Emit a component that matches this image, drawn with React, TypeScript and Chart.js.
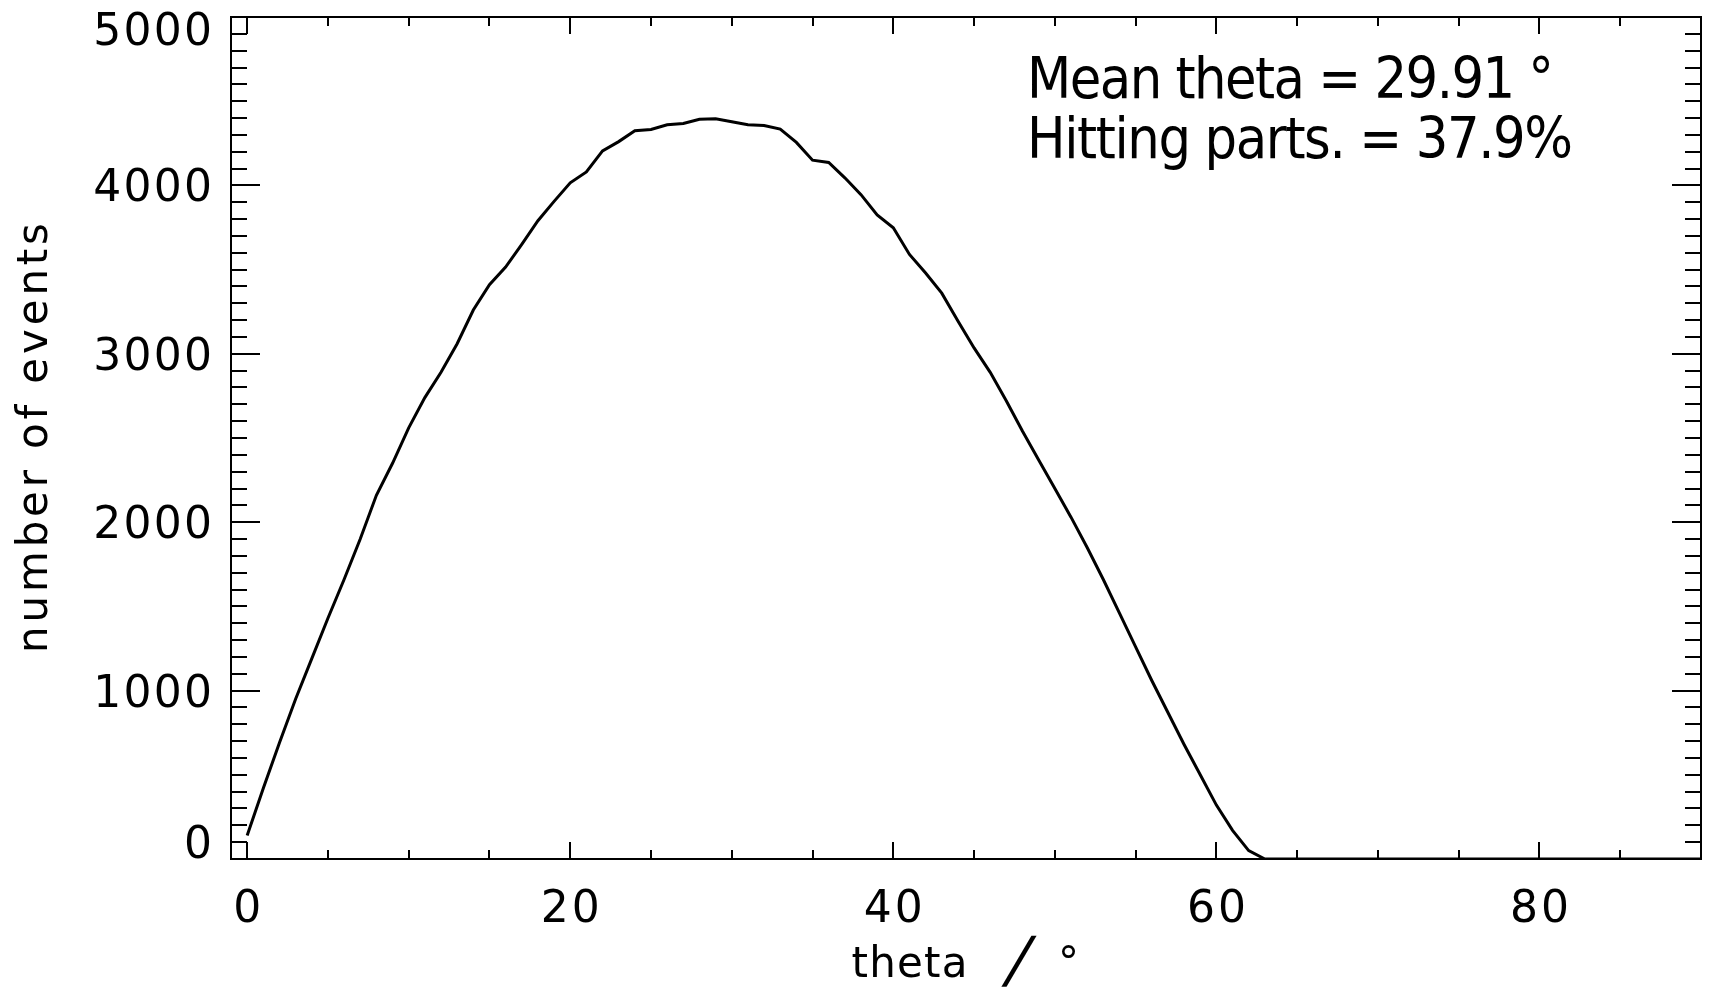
import React, { useEffect, useRef } from "react";
import { Chart, registerables } from "chart.js";

Chart.register(...registerables);

// ---- data ----
const thetaDeg = [
  0, 1, 2, 3, 4, 5, 6, 7, 8, 9,
  10, 11, 12, 13, 14, 15, 16, 17, 18, 19,
  20, 21, 22, 23, 24, 25, 26, 27, 28, 29,
  30, 31, 32, 33, 34, 35, 36, 37, 38, 39,
  40, 41, 42, 43, 44, 45, 46, 47, 48, 49,
  50, 51, 52, 53, 54, 55, 56, 57, 58, 59,
  60, 61, 62, 63, 64, 65, 66, 67, 68, 69,
  70, 71, 72, 73, 74, 75, 76, 77, 78, 79,
  80, 81, 82, 83, 84, 85, 86, 87, 88, 89,
  90,
];

const eventCounts = [
  140, 420, 690, 950, 1190, 1430, 1660, 1900, 2160, 2350,
  2560, 2740, 2890, 3060, 3260, 3410, 3515, 3650, 3790, 3905,
  4015, 4080, 4205, 4260, 4325, 4332, 4360, 4368, 4393, 4396,
  4378, 4360, 4356, 4334, 4255, 4150, 4136, 4045, 3945, 3825,
  3748, 3590, 3480, 3360, 3195, 3035, 2890, 2720, 2540, 2370,
  2200, 2030, 1850, 1660, 1460, 1260, 1060, 870, 680, 500,
  320, 170, 50, 0, 0, 0, 0, 0, 0, 0,
  0, 0, 0, 0, 0, 0, 0, 0, 0, 0,
  0, 0, 0, 0, 0, 0, 0, 0, 0, 0,
  0,
];

const xTickLabels = [0, 20, 40, 60, 80];
const yTickLabels = [0, 1000, 2000, 3000, 4000, 5000];
const xAxisRange = [-1, 90];
const yAxisRange = [0, 5000];
const xAxisTitleParts = ["theta", "/", "°"];
const yAxisTitle = "number of events";
const statLines = ["Mean theta = 29.91 °", "Hitting parts. = 37.9%"];

const AXIS_FONT = '"DejaVu Sans", sans-serif';
const STAT_FONT = '"Liberation Sans Narrow", "DejaVu Sans Condensed", "Liberation Sans", sans-serif';

function fillSpaced(ctx: CanvasRenderingContext2D, text: string, x: number, y: number, target: number, align: "left" | "right" | "center") {
  (ctx as any).letterSpacing = "0px";
  const w0 = ctx.measureText(text).width;
  const n = text.length;
  const sp = n > 1 ? (target - w0) / (n - 1) : 0;
  (ctx as any).letterSpacing = sp + "px";
  const total = w0 + sp * (n - 1);
  let sx = x;
  if (align === "right") sx = x - total;
  else if (align === "center") sx = x - total / 2;
  ctx.textAlign = "left";
  ctx.fillText(text, sx, y);
  (ctx as any).letterSpacing = "0px";
}

const idlFrame = {
  id: "idlFrame",
  afterDraw(chart: any) {
    const { ctx, chartArea: a, scales } = chart;
    const xs = scales.x;
    const ys = scales.y;
    ctx.save();
    ctx.strokeStyle = "#000";
    ctx.fillStyle = "#000";
    ctx.lineWidth = 2;
    ctx.strokeRect(a.left, a.top, a.right - a.left, a.bottom - a.top);

    ctx.beginPath();
    for (let v = 0; v <= 90; v += 5) {
      const px = Math.round(xs.getPixelForValue(v));
      const len = v % 20 === 0 ? 17 : 9;
      ctx.moveTo(px, a.bottom);
      ctx.lineTo(px, a.bottom - len);
      ctx.moveTo(px, a.top);
      ctx.lineTo(px, a.top + len);
    }
    for (let v = 0; v <= 5000; v += 100) {
      const py = Math.round(ys.getPixelForValue(v));
      const len = v % 1000 === 0 ? 29 : 16;
      ctx.moveTo(a.left, py);
      ctx.lineTo(a.left + len, py);
      ctx.moveTo(a.right, py);
      ctx.lineTo(a.right - len, py);
    }
    ctx.stroke();

    // tick labels
    ctx.font = "44px " + AXIS_FONT;
    ctx.textBaseline = "alphabetic";
    for (const v of xTickLabels) {
      const px = xs.getPixelForValue(v);
      const s = String(v);
      fillSpaced(ctx, s, px, 921.5, s.length * 29.5, "center");
    }
    for (const v of yTickLabels) {
      let py = ys.getPixelForValue(v) + 16;
      if (v === yAxisRange[0]) py -= 16.6;
      if (v === yAxisRange[1]) py += 12;
      const s = String(v);
      fillSpaced(ctx, s, 212, py, s.length * 29.7, "right");
    }

    // x axis title
    ctx.font = "42px " + AXIS_FONT;
    fillSpaced(ctx, xAxisTitleParts[0], 851.5, 977, 116, "left");
    ctx.save();
    ctx.font = "62px " + AXIS_FONT;
    ctx.textAlign = "left";
    ctx.translate(1003, 981);
    ctx.transform(1, 0, -0.28, 1, 0, 0);
    ctx.fillText(xAxisTitleParts[1], 0, 0);
    ctx.restore();
    ctx.font = "42px " + AXIS_FONT;
    ctx.textAlign = "left";
    ctx.fillText(xAxisTitleParts[2], 1058, 977);

    // y axis title
    ctx.save();
    ctx.translate(47, (a.top + a.bottom) / 2);
    ctx.rotate(-Math.PI / 2);
    ctx.font = "42px " + AXIS_FONT;
    fillSpaced(ctx, yAxisTitle, 0, 0, 430, "center");
    ctx.restore();

    // statistics annotation
    ctx.font = "57px " + STAT_FONT;
    fillSpaced(ctx, statLines[0], 1027, 98, 527, "left");
    fillSpaced(ctx, statLines[1], 1027, 158, 546, "left");

    ctx.restore();
  },
};

export default function App() {
  const ref = useRef<HTMLCanvasElement>(null);
  useEffect(() => {
    document.body.style.margin = "0";
    const points = thetaDeg.map((t, i) => ({ x: t, y: eventCounts[i] }));
    const chart = new Chart(ref.current as HTMLCanvasElement, {
      type: "line",
      data: {
        datasets: [
          {
            data: points,
            borderColor: "#000",
            borderWidth: 3,
            pointRadius: 0,
            tension: 0,
            fill: false,
          },
        ],
      },
      options: {
        responsive: false,
        animation: false,
        devicePixelRatio: 1,
        layout: { padding: { left: 231, right: 9, top: 17, bottom: 136 } },
        plugins: { legend: { display: false }, tooltip: { enabled: false }, title: { display: false } },
        scales: {
          x: { type: "linear", min: xAxisRange[0], max: xAxisRange[1], display: false },
          y: { type: "linear", min: yAxisRange[0], max: yAxisRange[1], display: false },
        },
      },
      plugins: [idlFrame],
    } as any);
    return () => chart.destroy();
  }, []);
  return (
    <canvas
      ref={ref}
      width={1710}
      height={995}
      style={{ display: "block", width: "1710px", height: "995px", background: "#fff" }}
    />
  );
}
